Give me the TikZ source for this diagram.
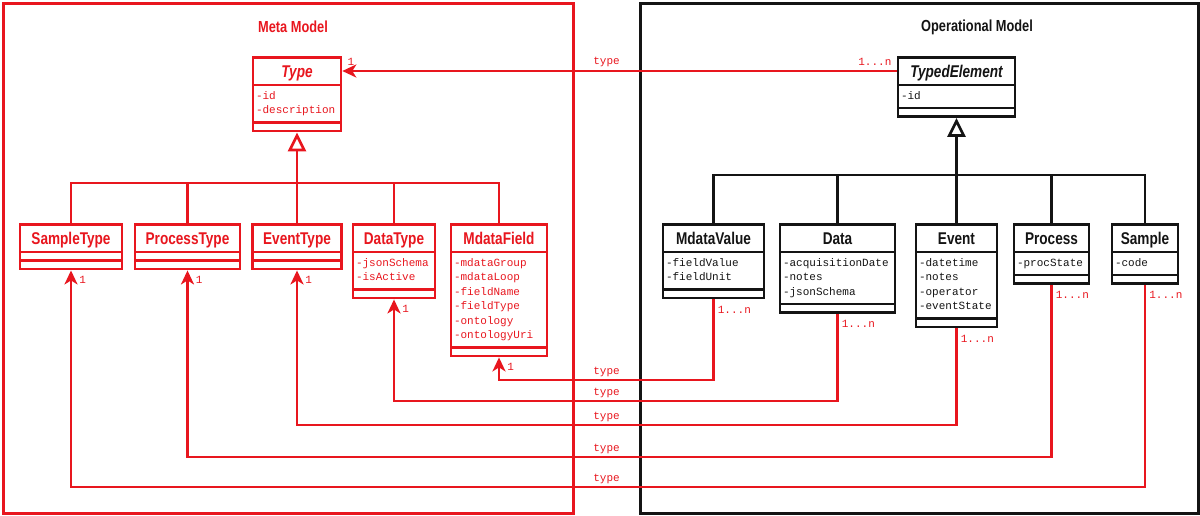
\documentclass[tikz,border=0pt]{standalone}
\usepackage{fontspec}
\setmainfont{Liberation Sans}
\setmonofont{Liberation Mono}
\newfontfamily\headfont{Liberation Sans}[FakeStretch=0.8]
\usetikzlibrary{arrows.meta,positioning,shapes.multipart}
\definecolor{umlred}{RGB}{232,22,30}
\definecolor{umlink}{RGB}{20,20,20}

\newcommand{\clsname}[1]{{\headfont\bfseries\fontsize{17}{19}\selectfont\rule[-3.5pt]{0pt}{19pt}#1}}
\newcommand{\clsabs}[1]{\clsname{\itshape #1}}
\newcommand{\clsattr}[1]{{\ttfamily\fontsize{11}{14.5}\selectfont\begin{tabular}{@{}l@{}}#1\end{tabular}}}
\newcommand{\clsnone}{\rule{1pt}{0pt}}

\begin{document}
\begin{tikzpicture}[
  x=1pt, y=-1pt,
  frame/.style={draw, line width=3pt, outer sep=0pt, anchor=north west},
  title/.style={font=\headfont\bfseries\fontsize{16}{18}\selectfont, inner sep=1pt},
  cls/.style={rectangle split, rectangle split parts=3, rectangle split part align={center,left,left},
    draw, line width=2.6pt, inner xsep=3pt, inner ysep=3pt, fill=white, anchor=north},
  metacls/.style={cls, draw=umlred, text=umlred},
  opcls/.style={cls, draw=umlink, text=umlink},
  metatree/.style={draw=umlred, line width=2.7pt},
  optree/.style={draw=umlink, line width=2.7pt},
  gen/.style={-{Triangle[open, length=19pt, width=18pt, fill=white]}},
  assoc/.style={draw=umlred, line width=2.7pt, -{Stealth[length=14pt, width=13pt, inset=4pt]}},
  card/.style={text=umlred, font=\ttfamily\fontsize{11}{13}\selectfont, inner sep=1pt},
  one/.style={card, anchor=north west, xshift=6pt, yshift=-3pt},
  many/.style={card, anchor=north west, xshift=2pt, yshift=-4pt},
  typelbl/.style={card, anchor=south, yshift=2pt}
]
\useasboundingbox (0,0) rectangle (1200,515);

% containers
\node[frame, draw=umlred, minimum width=570pt, minimum height=510pt] (metabox) at (3,3) {};
\node[frame, draw=umlink, minimum width=558pt, minimum height=510pt] (opbox) at (640,3) {};
\node[title, text=umlred] (metatitle) at (293,27) {Meta Model};
\node[title, text=umlink] (optitle) at (977,27) {Operational Model};

% meta model classes
\node[metacls, minimum width=88pt] (type) at (297,56)
  {\clsabs{Type}\nodepart{two}\clsattr{-id\\-description}\nodepart{three}\clsnone};
\node[metacls, minimum width=102pt] (sampletype) at (71,223)
  {\clsname{SampleType}\nodepart{two}\clsnone\nodepart{three}\clsnone};
\node[metacls, minimum width=105pt] (processtype) at (187.5,223)
  {\clsname{ProcessType}\nodepart{two}\clsnone\nodepart{three}\clsnone};
\node[metacls, minimum width=89pt] (eventtype) at (297,223)
  {\clsname{EventType}\nodepart{two}\clsnone\nodepart{three}\clsnone};
\node[metacls, minimum width=82pt] (datatype) at (394,223)
  {\clsname{DataType}\nodepart{two}\clsattr{-jsonSchema\\-isActive}\nodepart{three}\clsnone};
\node[metacls, minimum width=96pt] (mdatafield) at (499,223)
  {\clsname{MdataField}\nodepart{two}\clsattr{-mdataGroup\\-mdataLoop\\-fieldName\\-fieldType\\-ontology\\-ontologyUri}\nodepart{three}\clsnone};

% operational model classes
\node[opcls, minimum width=117pt] (typedelement) at (956.5,56)
  {\clsabs{TypedElement}\nodepart{two}\clsattr{-id}\nodepart{three}\clsnone};
\node[opcls, minimum width=101pt] (mdatavalue) at (713.5,223)
  {\clsname{MdataValue}\nodepart{two}\clsattr{-fieldValue\\-fieldUnit}\nodepart{three}\clsnone};
\node[opcls, minimum width=115pt] (data) at (837.5,223)
  {\clsname{Data}\nodepart{two}\clsattr{-acquisitionDate\\-notes\\-jsonSchema}\nodepart{three}\clsnone};
\node[opcls, minimum width=81pt] (event) at (956.5,223)
  {\clsname{Event}\nodepart{two}\clsattr{-datetime\\-notes\\-operator\\-eventState}\nodepart{three}\clsnone};
\node[opcls, minimum width=75pt] (process) at (1051.5,223)
  {\clsname{Process}\nodepart{two}\clsattr{-procState}\nodepart{three}\clsnone};
\node[opcls, minimum width=66pt] (sample) at (1145,223)
  {\clsname{Sample}\nodepart{two}\clsattr{-code}\nodepart{three}\clsnone};

% generalisation trees
\coordinate (metajoin) at (297,183);
\draw[metatree] (sampletype.north) |- (metajoin);
\draw[metatree] (processtype.north) |- (metajoin);
\draw[metatree] (eventtype.north) -- (metajoin);
\draw[metatree] (datatype.north) |- (metajoin);
\draw[metatree] (mdatafield.north) |- (metajoin);
\draw[metatree, gen] (metajoin) -- (type.south);

\coordinate (opjoin) at (956.5,175);
\draw[optree] (mdatavalue.north) |- (opjoin);
\draw[optree] (data.north) |- (opjoin);
\draw[optree] (event.north) -- (opjoin);
\draw[optree] (process.north) |- (opjoin);
\draw[optree] (sample.north) |- (opjoin);
\draw[optree, gen] (opjoin) -- (typedelement.south);

% type links
\coordinate (lvl0) at (606.5,70);
\coordinate (lvl1) at (606.5,380);
\coordinate (lvl2) at (606.5,401);
\coordinate (lvl3) at (606.5,425);
\coordinate (lvl4) at (606.5,457);
\coordinate (lvl5) at (606.5,487);

\draw[assoc] ([yshift=-15pt]typedelement.north west) node[card, anchor=south east, xshift=-3pt, yshift=3pt] {1...n}
  -- ([yshift=-15pt]type.north east) node[card, anchor=south west, xshift=3pt, yshift=3pt] {1};
\draw[assoc] (mdatavalue.south) node[many] {1...n} |- (lvl1 -| mdatafield.south) -- (mdatafield.south) node[one] {1};
\draw[assoc] (data.south) node[many] {1...n} |- (lvl2 -| datatype.south) -- (datatype.south) node[one] {1};
\draw[assoc] (event.south) node[many] {1...n} |- (lvl3 -| eventtype.south) -- (eventtype.south) node[one] {1};
\draw[assoc] (process.south) node[many] {1...n} |- (lvl4 -| processtype.south) -- (processtype.south) node[one] {1};
\draw[assoc] (sample.south) node[many] {1...n} |- (lvl5 -| sampletype.south) -- (sampletype.south) node[one] {1};

\node[typelbl] at (lvl0) {type};
\node[typelbl] at (lvl1) {type};
\node[typelbl] at (lvl2) {type};
\node[typelbl] at (lvl3) {type};
\node[typelbl] at (lvl4) {type};
\node[typelbl] at (lvl5) {type};
\end{tikzpicture}
\end{document}
